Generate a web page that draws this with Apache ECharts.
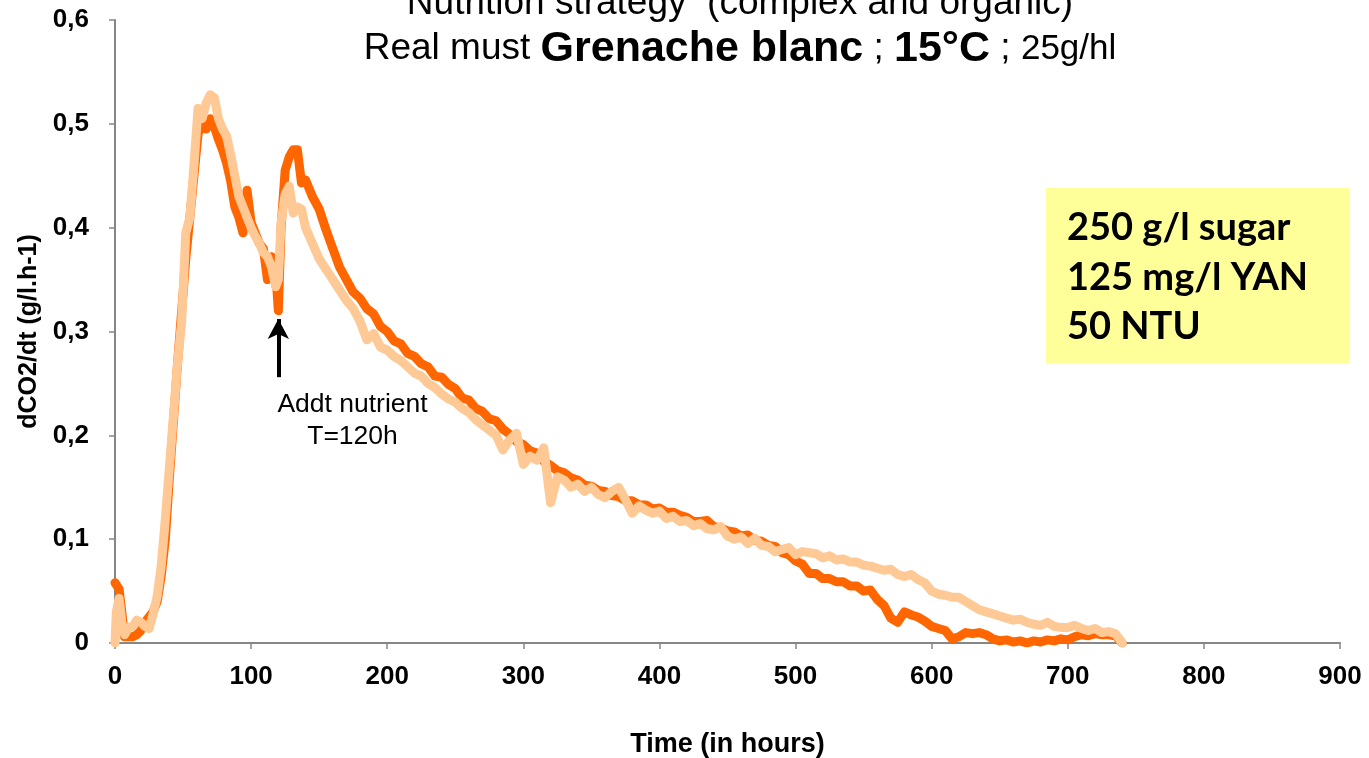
<!DOCTYPE html>
<html>
<head>
<meta charset="utf-8">
<script src="https://cdn.jsdelivr.net/npm/echarts@6/dist/echarts.min.js"></script>
<style>
  html, body { margin: 0; padding: 0; background: #fff; }
  #main { width: 1369px; height: 758px; }
</style>
</head>
<body>
<div id="main"></div>
<script>
// time points (hours)
var hours = [0, 1, 3, 5, 7, 10, 13, 16, 19, 22, 25, 28, 31, 34, 37, 40, 43, 46, 49, 52,
  55, 58, 61, 64, 67, 70, 73, 76, 79, 82, 85, 88, 91, 94, 97, 100, 103, 106, 109, 112,
  115, 118, 120, 122, 125, 128, 131, 134, 137, 140,
  145, 150, 155, 160, 165, 170, 175, 180, 185, 190, 195, 200, 205, 210, 215, 220, 225, 230, 235, 240,
  245, 250, 255, 260, 265, 270, 275, 280, 285, 290, 295, 300, 305, 310, 315, 320, 325, 330, 335, 340,
  345, 350, 355, 360, 365, 370, 375, 380, 385, 390, 395, 400, 405, 410, 415, 420, 425, 430, 435, 440,
  445, 450, 455, 460, 465, 470, 475, 480, 485, 490, 495, 500, 505, 510, 515, 520, 525, 530, 535, 540,
  545, 550, 555, 560, 565, 570, 575, 580, 585, 590, 595, 600, 605, 610, 615, 620, 625, 630, 635, 640,
  645, 650, 655, 660, 665, 670, 675, 680, 685, 690, 695, 700, 705, 710, 715, 720, 725, 730, 735, 740];

// dark orange run
var darkRun = [0.058, 0.058, 0.052, 0.03, 0.006, 0.006, 0.006, 0.008, 0.012, 0.02, 0.025, 0.03, 0.04, 0.065, 0.1, 0.16, 0.215, 0.27, 0.32, 0.37,
  0.41, 0.45, 0.49, 0.5, 0.495, 0.505, 0.497, 0.485, 0.475, 0.462, 0.445, 0.42, 0.41, 0.395, 0.436, 0.405, 0.395, 0.385, 0.38, 0.35,
  0.372, 0.36, 0.32, 0.4, 0.455, 0.468, 0.475, 0.475, 0.443, 0.446,
  0.43, 0.418, 0.398, 0.38, 0.362, 0.35, 0.338, 0.332, 0.322, 0.317, 0.305, 0.3, 0.291, 0.288, 0.279, 0.276, 0.269, 0.266, 0.257, 0.256,
  0.249, 0.245, 0.236, 0.234, 0.226, 0.223, 0.216, 0.214, 0.206, 0.201, 0.194, 0.191, 0.185, 0.183, 0.175, 0.171, 0.166, 0.164, 0.159, 0.157,
  0.152, 0.151, 0.147, 0.146, 0.142, 0.141, 0.137, 0.137, 0.133, 0.133, 0.129, 0.13, 0.126, 0.126, 0.123, 0.121, 0.117, 0.117, 0.118, 0.112,
  0.111, 0.108, 0.107, 0.103, 0.104, 0.099, 0.098, 0.094, 0.093, 0.087, 0.085, 0.079, 0.076, 0.067, 0.067, 0.062, 0.062, 0.059, 0.059, 0.055,
  0.055, 0.05, 0.051, 0.042, 0.036, 0.024, 0.02, 0.03, 0.027, 0.025, 0.021, 0.016, 0.014, 0.012, 0.004, 0.006, 0.01, 0.009, 0.01, 0.008,
  0.004, 0.002, 0.003, 0.001, 0.002, 0.0, 0.002, 0.001, 0.003, 0.002, 0.004, 0.003, 0.006, 0.008, 0.007, 0.009, 0.008, 0.008, 0.007, 0.0];

// light orange run
var lightRun = [0.0, 0.03, 0.043, 0.02, 0.008, 0.015, 0.016, 0.022, 0.02, 0.016, 0.014, 0.028, 0.045, 0.075, 0.12, 0.17, 0.22, 0.27, 0.31, 0.395,
  0.41, 0.46, 0.515, 0.505, 0.52, 0.528, 0.525, 0.505, 0.495, 0.488, 0.47, 0.45, 0.43, 0.42, 0.41, 0.4, 0.392, 0.385, 0.376, 0.372,
  0.362, 0.343, 0.35, 0.405, 0.432, 0.44, 0.414, 0.42, 0.418, 0.4,
  0.385, 0.37, 0.36, 0.35, 0.34, 0.33, 0.322, 0.31, 0.292, 0.298, 0.285, 0.282, 0.276, 0.272, 0.266, 0.26, 0.257, 0.25, 0.246, 0.24,
  0.235, 0.232, 0.226, 0.222, 0.215, 0.21, 0.205, 0.2, 0.186, 0.196, 0.202, 0.172, 0.18, 0.176, 0.188, 0.135, 0.16, 0.157, 0.15, 0.153,
  0.146, 0.15, 0.143, 0.14, 0.146, 0.15, 0.138, 0.125, 0.132, 0.128, 0.125, 0.127, 0.12, 0.122, 0.117, 0.118, 0.113, 0.115, 0.11, 0.109,
  0.112, 0.103, 0.1, 0.102, 0.096, 0.101, 0.094, 0.093, 0.088, 0.09, 0.092, 0.085, 0.088, 0.087, 0.086, 0.082, 0.084, 0.08, 0.081, 0.078,
  0.078, 0.075, 0.074, 0.072, 0.07, 0.071, 0.066, 0.064, 0.066, 0.061, 0.058, 0.05, 0.047, 0.046, 0.044, 0.044, 0.04, 0.036, 0.032, 0.03,
  0.028, 0.026, 0.024, 0.022, 0.023, 0.02, 0.018, 0.017, 0.02, 0.016, 0.015, 0.015, 0.017, 0.014, 0.012, 0.014, 0.01, 0.011, 0.009, 0.0];

var boxLines = ['250 g/l sugar', '125 mg/l YAN', '50 NTU'];

function pairs(vals) {
    var out = [];
    for (var i = 0; i < hours.length; i++) out.push([hours[i], vals[i]]);
    return out;
}

var chart = echarts.init(document.getElementById('main'));
var FONT = '"Liberation Sans", Arial, sans-serif';
var BOXFONT = 'bold 38px Lato, "Open Sans", sans-serif';

var option = {
    animation: false,
    backgroundColor: '#fff',
    grid: { left: 115, right: 29, top: 20, height: 623, containLabel: false, outerBoundsMode: 'none' },
    xAxis: {
        type: 'value', min: 0, max: 900, interval: 100,
        name: 'Time (in hours)', nameLocation: 'middle', nameGap: 88,
        nameTextStyle: { fontFamily: FONT, fontWeight: 'bold', fontSize: 27, color: '#000' },
        axisLine: { lineStyle: { color: '#868686', width: 2 } },
        axisTick: { length: 6, lineStyle: { color: '#868686', width: 1.5 } },
        axisLabel: { fontFamily: FONT, fontWeight: 'bold', fontSize: 26, color: '#000', margin: 21 },
        splitLine: { show: false }
    },
    yAxis: {
        type: 'value', min: 0, max: 0.6, interval: 0.1,
        name: 'dCO2/dt (g/l.h-1)', nameLocation: 'middle', nameGap: 69,
        nameTextStyle: { fontFamily: FONT, fontWeight: 'bold', fontSize: 25, color: '#000' },
        axisLine: { show: true, lineStyle: { color: '#868686', width: 2 } },
        axisTick: { show: true, length: 6, lineStyle: { color: '#868686', width: 1.5 } },
        axisLabel: {
            fontFamily: FONT, fontWeight: 'bold', fontSize: 26, color: '#000', margin: 26,
            formatter: function (v) { return v === 0 ? '0' : v.toFixed(1).replace('.', ','); }
        },
        splitLine: { show: false }
    },
    series: [
        {
            name: 'dark', type: 'line', data: pairs(darkRun), showSymbol: false,
            lineStyle: { color: '#FF6600', width: 9, join: 'round', cap: 'round' },
            itemStyle: { color: '#FF6600' },
            markLine: {
                silent: true, symbol: ['none', 'arrow'], symbolSize: [16, 20],
                lineStyle: { color: '#000', width: 4, type: 'solid' },
                label: { show: false },
                data: [[{ coord: [120, 0.256] }, { coord: [120, 0.312] }]]
            },
            markPoint: {
                silent: true, symbol: 'circle', symbolSize: 0,
                label: {
                    show: true, position: 'inside', formatter: 'Addt nutrient\nT=120h',
                    fontFamily: FONT, fontSize: 26.5, lineHeight: 32, color: '#000'
                },
                data: [{ coord: [174.5, 0.214] }]
            }
        },
        {
            name: 'light', type: 'line', data: pairs(lightRun), showSymbol: false,
            lineStyle: { color: '#FFC996', width: 9, join: 'round', cap: 'round' },
            itemStyle: { color: '#FFC996' }
        }
    ],
    graphic: [
        {
            type: 'text', x: 740, y: -15,
            style: {
                text: 'Nutrition strategy  (complex and organic)',
                font: '37px ' + FONT, fill: '#000', textAlign: 'center'
            }
        },
        {
            type: 'text', x: 740, y: 49,
            style: {
                text: '{r|Real must }{b|Grenache blanc}{r| ; }{b|15°C}{r| ; }{s|25g/hl}',
                textAlign: 'center', textVerticalAlign: 'middle',
                rich: {
                    r: { fontFamily: FONT, fontSize: 37, color: '#000' },
                    b: { fontFamily: FONT, fontSize: 43, fontWeight: 'bold', color: '#000' },
                    s: { fontFamily: FONT, fontSize: 35, color: '#000' }
                }
            }
        },
        {
            type: 'rect', shape: { x: 1046, y: 188, width: 303, height: 175 },
            style: { fill: '#FFFF99' }
        },
        {
            type: 'text', x: 1067, y: 228,
            style: { text: boxLines[0], font: BOXFONT, fill: '#000', textVerticalAlign: 'middle' }
        },
        {
            type: 'text', x: 1067, y: 278,
            style: { text: boxLines[1], font: BOXFONT, fill: '#000', textVerticalAlign: 'middle' }
        },
        {
            type: 'text', x: 1067, y: 327,
            style: { text: boxLines[2], font: BOXFONT, fill: '#000', textVerticalAlign: 'middle' }
        }
    ]
};
chart.setOption(option);
</script>
</body>
</html>
